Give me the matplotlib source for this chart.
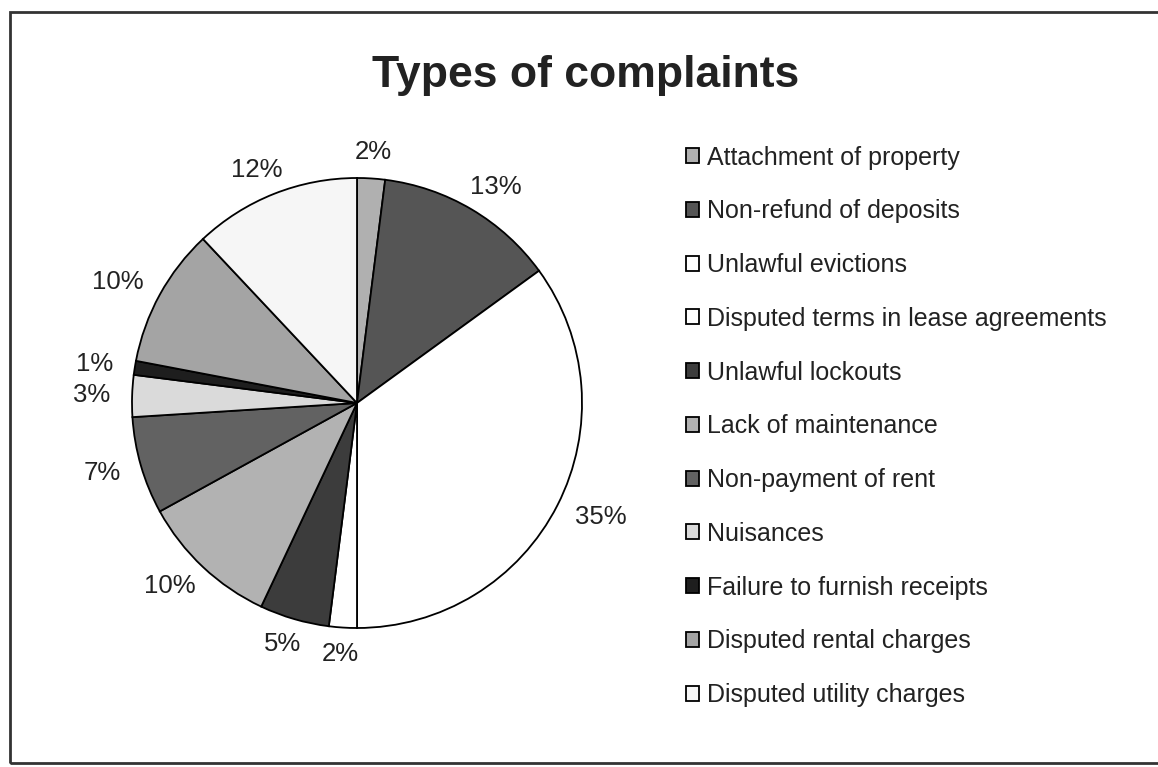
import matplotlib
matplotlib.use("Agg")
import numpy as np
import matplotlib.pyplot as plt
from matplotlib.patches import Rectangle

plt.rcParams['font.family'] = ['Liberation Sans', 'DejaVu Sans']

# complaint categories, in clockwise order from 12 o'clock
categories = [
    "Attachment of property",
    "Non-refund of deposits",
    "Unlawful evictions",
    "Disputed terms in lease agreements",
    "Unlawful lockouts",
    "Lack of maintenance",
    "Non-payment of rent",
    "Nuisances",
    "Failure to furnish receipts",
    "Disputed rental charges",
    "Disputed utility charges",
]
shares = [2, 13, 35, 2, 5, 10, 7, 3, 1, 10, 12]
shades = ["#b0b0b0", "#555555", "#ffffff", "#ffffff", "#3c3c3c", "#b2b2b2",
          "#626262", "#dadada", "#1e1e1e", "#a4a4a4", "#f6f6f6"]

W, H = 1158, 767
fig = plt.figure(figsize=(W / 100, H / 100), dpi=100)
fig.patch.set_facecolor("white")

# outer border of the chart area
fig.add_artist(Rectangle((10 / W, 1 - 763 / H), 1.2, (763 - 12) / H,
                         transform=fig.transFigure, fill=False,
                         edgecolor="#333333", linewidth=2))

fig.text(586 / W, 1 - 76 / H, "Types of complaints", ha="center", va="center",
         fontsize=32, fontweight="bold", color="#222222")

cx, cy, r = 357, 403, 225
ax = fig.add_axes([(cx - r) / W, (H - cy - r) / H, 2 * r / W, 2 * r / H])
wedges, _, pcts = ax.pie(
    shares, colors=shades, startangle=90, counterclock=False,
    autopct="%.0f%%", pctdistance=1.15,
    wedgeprops=dict(edgecolor="black", linewidth=1.3),
    textprops=dict(fontsize=18.5, color="#222222"),
)
ax.set_xlim(-1, 1)
ax.set_ylim(-1, 1)
ax.set_aspect("equal")
ax.axis("off")

# push each percentage label out so its box sits just clear of the rim
renderer = fig.canvas.get_renderer()
gap = 245 / r
for w, t in zip(wedges, pcts):
    th = np.deg2rad((w.theta1 + w.theta2) / 2)
    bb = t.get_window_extent(renderer)
    tw, tht = 1.1 * bb.width / r, 0.5 * bb.height / r
    t.set_position((gap * np.cos(th) + tw / 2 * np.cos(th),
                    gap * np.sin(th) + tht / 2 * np.sin(th)))

leg = fig.legend(wedges, categories, loc="upper left",
                 bbox_to_anchor=(673 / W, 1 - 133 / H), frameon=False,
                 fontsize=18, handlelength=0.55, handleheight=0.55,
                 handletextpad=0.3, labelspacing=1.19, borderpad=0)
for t in leg.get_texts():
    t.set_color("#222222")

fig.savefig("out.png", dpi=100, facecolor="white")
